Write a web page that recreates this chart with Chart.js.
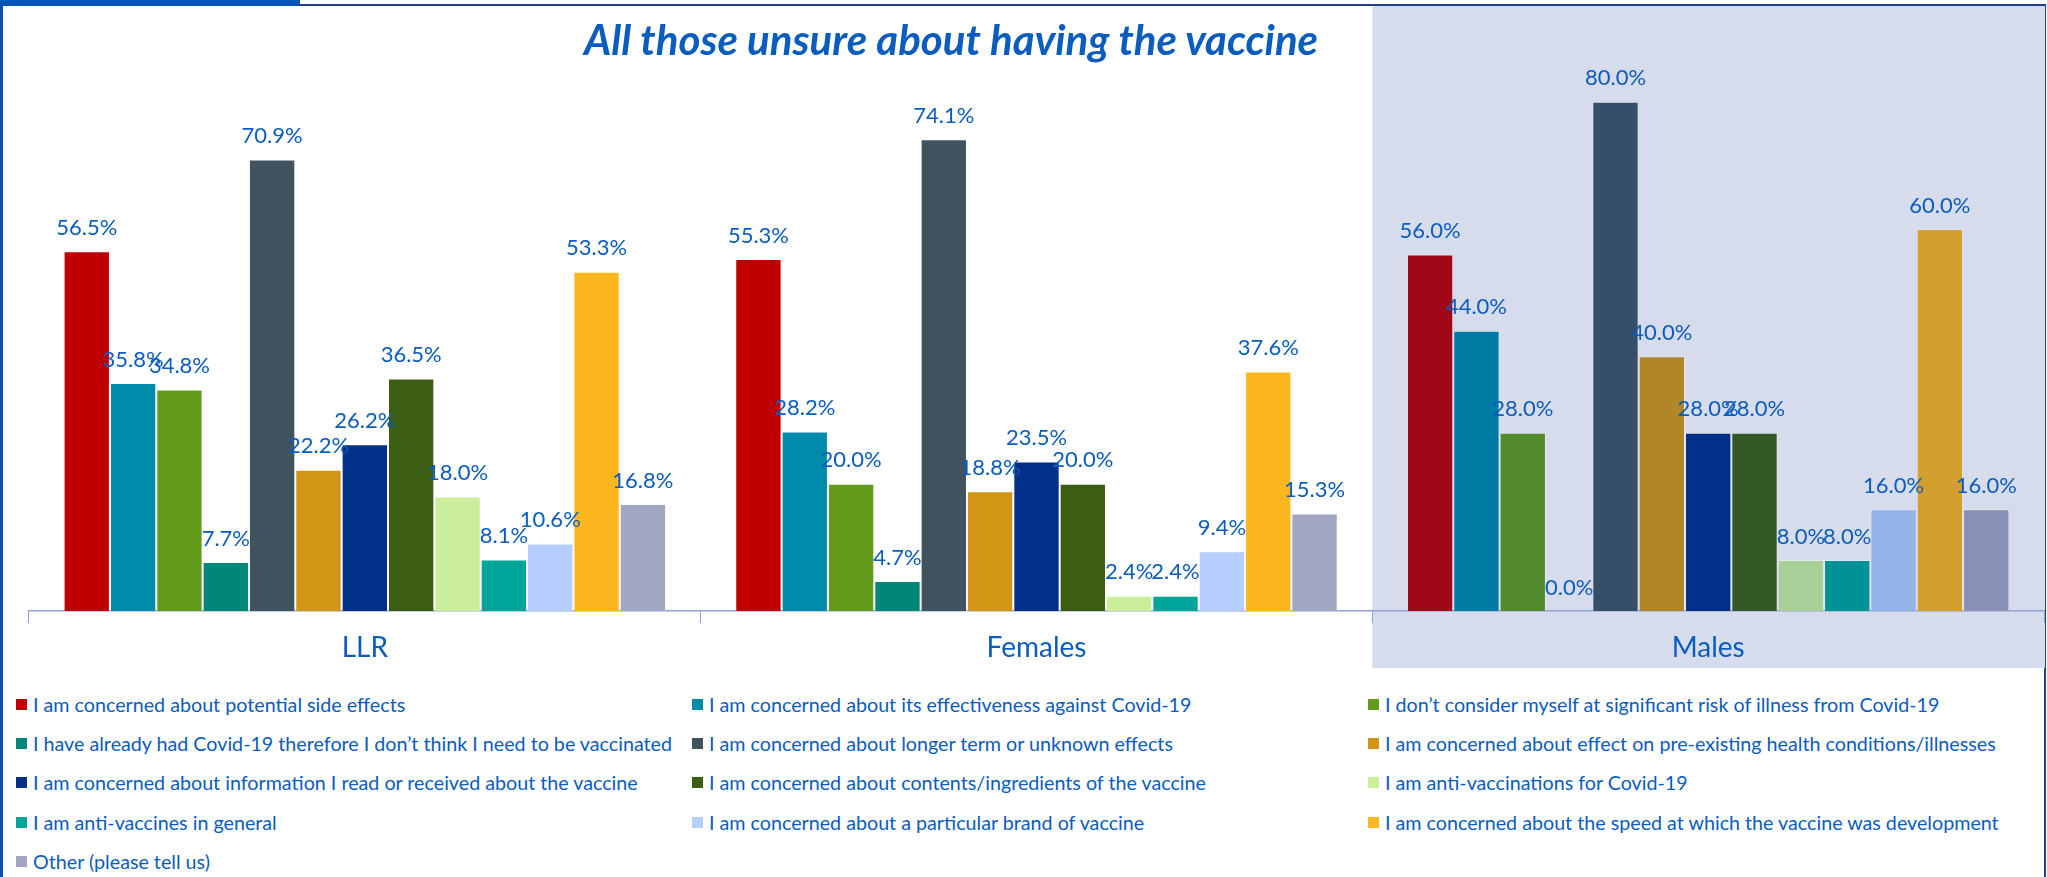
<!DOCTYPE html>
<html>
<head>
<meta charset="utf-8">
<script src="https://cdn.jsdelivr.net/npm/chart.js@4.4.1/dist/chart.umd.min.js"></script>
<style>
  html, body { margin: 0; padding: 0; background: #fff; }
  body { width: 2047px; height: 877px; position: relative; overflow: hidden; font-family: Lato, 'Noto Sans', sans-serif; }
  #frame { position: absolute; left: 0; top: 4px; width: 2046px; height: 900px; box-sizing: border-box;
           border-left: 3px solid #0A50B4; border-top: 2px solid #203F8C; border-right: 2px solid #203F8C; }
  #topBar { position: absolute; left: 0; top: 0; width: 300px; height: 6px; background: #0555B8; }
  #chartBox { position: absolute; left: 0; top: 0; width: 2047px; height: 680px; }
  #title { position: absolute; left: 451px; top: 14px; width: 1000px; text-align: center;
           font-size: 42px; font-weight: bold; font-style: italic; color: #0A5CBE; white-space: nowrap; }
  #legend { position: absolute; left: 16px; top: 685px; display: grid;
            grid-template-columns: 676px 676px 660px; grid-auto-rows: 39.2px; }
  .item { display: flex; align-items: center; color: #0A5CBE; font-size: 19.7px; white-space: nowrap; }
  .box { width: 11px; height: 11px; margin-right: 6px; flex: none; }
</style>
</head>
<body>
<div id="frame"></div>
<div id="topBar"></div>
<div id="chartBox"><canvas id="chart" width="2047" height="680"></canvas></div>
<div id="title">All those unsure about having the vaccine</div>
<div id="legend"></div>

<script>
// ---- data ----
const categories = ['LLR', 'Females', 'Males'];

const seriesLabels = [
  'I am concerned about potential side effects',
  'I am concerned about its effectiveness against Covid-19',
  'I don\u2019t consider myself at significant risk of illness from Covid-19',
  'I have already had Covid-19 therefore I don\u2019t think I need to be vaccinated',
  'I am concerned about longer term or unknown effects',
  'I am concerned about effect on pre-existing health conditions/illnesses',
  'I am concerned about information I read or received about the vaccine',
  'I am concerned about contents/ingredients of the vaccine',
  'I am anti-vaccinations for Covid-19',
  'I am anti-vaccines in general',
  'I am concerned about a particular brand of vaccine',
  'I am concerned about the speed at which the vaccine was development',
  'Other (please tell us)'
];

// values per series: [LLR, Females, Males]
const sideEffects   = [56.5, 55.3, 56.0];
const effectiveness = [35.8, 28.2, 44.0];
const notAtRisk     = [34.8, 20.0, 28.0];
const alreadyHad    = [7.7, 4.7, 0.0];
const longerTerm    = [70.9, 74.1, 80.0];
const preExisting   = [22.2, 18.8, 40.0];
const information   = [26.2, 23.5, 28.0];
const ingredients   = [36.5, 20.0, 28.0];
const antiCovidVax  = [18.0, 2.4, 8.0];
const antiVaxGen    = [8.1, 2.4, 8.0];
const brand         = [10.6, 9.4, 16.0];
const speed         = [53.3, 37.6, 60.0];
const other         = [16.8, 15.3, 16.0];

const seriesValues = [sideEffects, effectiveness, notAtRisk, alreadyHad, longerTerm, preExisting,
  information, ingredients, antiCovidVax, antiVaxGen, brand, speed, other];

// colours: LLR / Females use the first set, Males the second
const mainColors = ['#C00000', '#008BAA', '#639C1B', '#00877A', '#41535F', '#D39516', '#003087',
  '#3B5E12', '#CCEE9B', '#00A59A', '#B6CDFF', '#FDB71E', '#A3A6C0'];
const maleColors = ['#A00818', '#007BA4', '#538B2F', '#008078', '#374E68', '#B08628', '#003087',
  '#345826', '#A8CF98', '#009294', '#95B3E8', '#D3A030', '#8891B5'];

const textBlue = '#0A5CBE';
const axisColor = '#8FA2D2';
const fontFamily = 'Lato, "Noto Sans", sans-serif';

// ---- plugins ----
const malesShade = {
  id: 'malesShade',
  beforeDraw(chart) {
    const x = chart.scales.x;
    const left = (x.getPixelForValue(1) + x.getPixelForValue(2)) / 2;
    const ctx = chart.ctx;
    ctx.save();
    ctx.fillStyle = '#D6DCEB';
    ctx.fillRect(left, 6, chart.width - 2 - left, 662);
    ctx.restore();
  }
};

const valueLabels = {
  id: 'valueLabels',
  afterDatasetsDraw(chart) {
    const ctx = chart.ctx;
    ctx.save();
    ctx.font = '22px ' + fontFamily;
    ctx.fillStyle = textBlue;
    ctx.textAlign = 'center';
    ctx.textBaseline = 'middle';
    chart.data.datasets.forEach((ds, i) => {
      chart.getDatasetMeta(i).data.forEach((bar, j) => {
        ctx.fillText(ds.data[j].toFixed(1) + '%', bar.x, bar.y - 23.5);
      });
    });
    ctx.restore();
  }
};

// ---- chart ----
const datasets = seriesLabels.map((label, i) => ({
  label,
  data: seriesValues[i],
  backgroundColor: [mainColors[i], mainColors[i], maleColors[i]],
  borderColor: 'rgba(255,255,255,0.35)',
  borderWidth: 1
}));

const chart = new Chart(document.getElementById('chart'), {
  type: 'bar',
  data: { labels: categories, datasets },
  options: {
    responsive: false,
    animation: false,
    layout: { padding: { left: 29, right: 3, top: 38, bottom: 9 } },
    datasets: { bar: { categoryPercentage: 0.897, barPercentage: 1.0 } },
    plugins: {
      legend: { display: false },
      tooltip: { enabled: false },
      title: { display: false }
    },
    scales: {
      x: {
        grid: { display: true, drawOnChartArea: false, tickLength: 12, color: axisColor, offset: true },
        border: { color: axisColor, width: 1.5 },
        ticks: { color: textBlue, font: { size: 28, family: fontFamily }, padding: 8 },
        afterFit: s => { s.height = 60; }
      },
      y: { display: false, min: 0, max: 90 }
    }
  },
  plugins: [malesShade, valueLabels]
});

// ---- legend (3 fixed columns, like the original) ----
const legend = document.getElementById('legend');
chart.data.datasets.forEach((ds, i) => {
  const item = document.createElement('div');
  item.className = 'item';
  item.innerHTML = `<span class="box" style="background:${mainColors[i]}"></span><span>${ds.label}</span>`;
  legend.appendChild(item);
});
</script>
</body>
</html>
